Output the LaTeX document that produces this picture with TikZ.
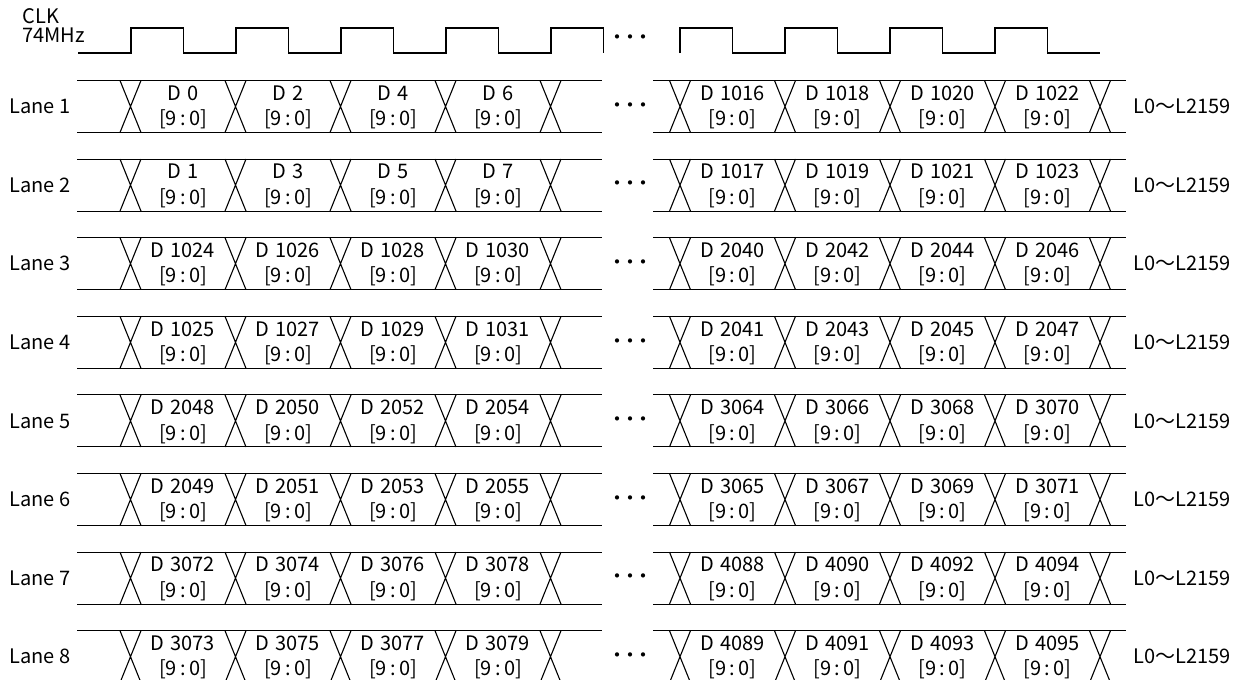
\documentclass[tikz,border=0pt]{standalone}
\usepackage{fontspec}
\setmainfont{Noto Sans CJK JP}
\newcommand\lanedots{・\hspace{-7pt}・\hspace{-7pt}・}

\begin{document}
\begin{tikzpicture}[
    x=1pt, y=-1pt,
    line width=1.1pt,
    every node/.style={font=\fontsize{20}{24}\selectfont, inner sep=0pt},
  ]
    \useasboundingbox (0,0) rectangle (1243,680);
    %% Clock
    \node[anchor=west] (clk) at (22,16) {CLK};
    \node[anchor=west] (mhz) at (22,35) {74MHz};
    \draw (78,53) \foreach \i in {0,...,4} { -| (131+105*\i,28) -| (183.5+105*\i,53) };
    \node (clkdots) at (630,40) {\lanedots};
    \draw (680,53) \foreach \i in {0,...,3} { -| (680+105*\i,28) -| (732.5+105*\i,53) } -- (1100,53);
    %% Lanes: two words per clock, 1024 words per lane pair
    \foreach \k in {1,...,8} {
      \pgfmathsetmacro\ty{80.5+78.6*(\k-1)}
      \pgfmathtruncatemacro\b{1024*floor((\k-1)/2)+mod(\k-1,2)}
      \node[anchor=west] (lane\k) at (9,\ty+26) {Lane \k};
      \draw (77,\ty) -- (602,\ty) (77,\ty+52) -- (602,\ty+52);
      \draw (653,\ty) -- (1126,\ty) (653,\ty+52) -- (1126,\ty+52);
      %% crossings
      \foreach \c in {130.5,235.5,340.5,445.5,550.5,680,785,890,995,1100}
        \draw (\c-10.5,\ty) -- (\c+10.5,\ty+52) (\c+10.5,\ty) -- (\c-10.5,\ty+52);
      %% words
      \foreach \j in {0,...,3} {
        \pgfmathtruncatemacro\dl{\b+2*\j}
        \pgfmathtruncatemacro\dr{\b+1016+2*\j}
        \node (dl-\k-\j) at (183+105*\j,\ty+12.5) {D\hspace{6pt}\dl};
        \node (bl-\k-\j) at (183+105*\j,\ty+39) {[9\,:\,0]};
        \node (dr-\k-\j) at (732.5+105*\j,\ty+12.5) {D\hspace{6pt}\dr};
        \node (br-\k-\j) at (732.5+105*\j,\ty+39) {[9\,:\,0]};
      }
      \node (dots\k) at (630,\ty+27) {\lanedots};
      \node (range\k) at (1182,\ty+26) {L0～L2159};
    }
  \end{tikzpicture}
\end{document}
